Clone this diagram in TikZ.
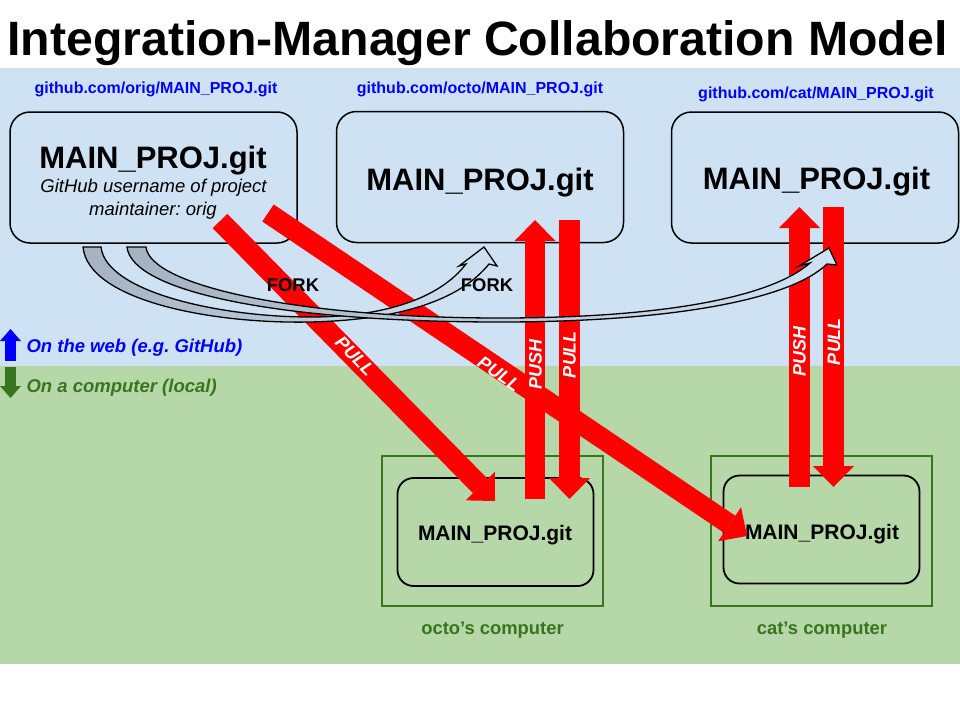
\documentclass[tikz,border=0pt]{standalone}
\usepackage{fontspec}
\setmainfont{Liberation Sans}
\usetikzlibrary{arrows.meta}
\frenchspacing

\definecolor{webblue}{HTML}{CFE2F3}
\definecolor{localgreen}{HTML}{B6D7A8}
\definecolor{pcgreen}{HTML}{38761D}
\definecolor{urlblue}{HTML}{0000FF}
\definecolor{gitred}{HTML}{FF0000}
\definecolor{forkgray}{HTML}{A5B2C1}

\begin{document}
\begin{tikzpicture}[x=1pt, y=-1pt,
    webbox/.style={draw, line width=1.5pt, rounded corners=20pt,
        minimum width=287pt, minimum height=131pt},
    localbox/.style={draw, line width=1.8pt, rounded corners=16pt,
        minimum width=196pt, minimum height=108pt},
    pcbox/.style={draw=pcgreen, line width=1.5pt,
        minimum width=221pt, minimum height=150pt},
    bigrepo/.style={font=\fontsize{31}{36}\selectfont\bfseries, anchor=base},
    smallrepo/.style={font=\fontsize{21}{25}\selectfont\bfseries, anchor=base},
    url/.style={text=urlblue, font=\fontsize{16}{19}\selectfont\bfseries, anchor=base},
    pclabel/.style={text=pcgreen, font=\fontsize{18.4}{22}\selectfont\bfseries, anchor=base},
    gitarrow/.style={draw=gitred, line width=20.5pt,
        -{Triangle[width=41pt, length=21pt, line width=0pt]}},
    gitlabel/.style={text=white, font=\fontsize{18}{22}\selectfont\bfseries\itshape, inner sep=0pt},
    forkarrow/.style={draw=black, line width=1.3pt, left color=forkgray, right color=webblue},
    forklabel/.style={font=\fontsize{18.4}{22}\selectfont\bfseries, anchor=base},
]
    \useasboundingbox (0,0) rectangle (960,720);
    \fill[white] (0,0) rectangle (960,720);
    \fill[webblue] (0,68) rectangle (960,366);
    \fill[localgreen] (0,366) rectangle (960,664);

    \node[font=\fontsize{48.2}{55}\selectfont\bfseries, anchor=base] (title) at (477.5,55)
        {Integration-Manager Collaboration Model};

    % repositories on the web
    \node[webbox] (origrepo) at (153.5,177.5) {};
    \node[webbox] (octorepo) at (480,177) {};
    \node[webbox] (catrepo) at (815,177.5) {};

    \node[url] (origurl) at (156,93) {github.com/orig/MAIN\_PROJ.git};
    \node[url] (octourl) at (480,93) {github.com/octo/MAIN\_PROJ.git};
    \node[url] (caturl) at (816,98) {github.com/cat/MAIN\_PROJ.git};

    \node[bigrepo] (origname) at (153,168) {MAIN\_PROJ.git};
    \node[font=\fontsize{18.5}{22}\selectfont\itshape, anchor=base] (origuser) at (153.5,192.5)
        {GitHub username of project};
    \node[font=\fontsize{18.5}{22}\selectfont\itshape, anchor=base] (origuser2) at (153,215)
        {maintainer: orig};
    \node[bigrepo] (octoname) at (480,190) {MAIN\_PROJ.git};
    \node[bigrepo] (catname) at (816.5,189) {MAIN\_PROJ.git};

    % computers
    \node[pcbox] (octopc) at (492.5,531) {};
    \node[pcbox] (catpc) at (821.5,531) {};
    \node[localbox] (octolocal) at (495.5,532) {};
    \node[localbox] (catlocal) at (821.5,529.5) {};
    \node[smallrepo] (octolocalname) at (495,540) {MAIN\_PROJ.git};
    \node[smallrepo] (catlocalname) at (822,539) {MAIN\_PROJ.git};
    \node[pclabel] (octopclabel) at (492.5,634) {octo’s computer};
    \node[pclabel] (catpclabel) at (822,634) {cat’s computer};

    % legend
    \draw[urlblue, line width=11pt, -{Triangle[width=21pt, length=12pt, line width=0pt]}]
        (10.5,361) -- (10.5,329);
    \draw[pcgreen, line width=11pt, -{Triangle[width=21pt, length=12pt, line width=0pt]}]
        (10.5,367) -- (10.5,398);
    \node[text=urlblue, font=\fontsize{18.5}{22}\selectfont\bfseries\itshape, anchor=base west]
        (weblegend) at (23,352) {On the web (e.g. GitHub)};
    \node[text=pcgreen, font=\fontsize{18.5}{22}\selectfont\bfseries\itshape, anchor=base west]
        (locallegend) at (23,392) {On a computer (local)};

    % push and pull
    \coordinate (origout1) at (220,221);
    \coordinate (origout2) at (268,213);
    \coordinate (octoin) at (495,501);
    \coordinate (catin) at (747,536);
    \draw[gitarrow] (origout1) -- (octoin);
    \draw[gitarrow] (origout2) -- (catin);

    \coordinate (octopushbot) at (535,499);
    \coordinate (octopushtop) at (535,220);
    \coordinate (octopulltop) at (569.5,220);
    \coordinate (octopullbot) at (569.5,499);
    \coordinate (catpushbot) at (799.5,487);
    \coordinate (catpushtop) at (799.5,207);
    \coordinate (catpulltop) at (833.5,207);
    \coordinate (catpullbot) at (833.5,487);
    \draw[gitarrow] (octopushbot) -- (octopushtop);
    \draw[gitarrow] (octopulltop) -- (octopullbot);
    \draw[gitarrow] (catpushbot) -- (catpushtop);
    \draw[gitarrow] (catpulltop) -- (catpullbot);

    \node[gitlabel, rotate=-45.5] (pullocto) at (355,356) {PULL};
    \node[gitlabel, rotate=-34] (pullcat) at (499,374) {PULL};
    \node[gitlabel, rotate=90] (octopush) at (535.5,364) {PUSH};
    \node[gitlabel, rotate=90] (octopull) at (569.5,354.5) {PULL};
    \node[gitlabel, rotate=90] (catpush) at (799.5,351.5) {PUSH};
    \node[gitlabel, rotate=90] (catpull) at (834,341.5) {PULL};

    % forks
    \path[forkarrow] (83,247) .. controls (88,300) and (210,324) .. (310,322)
        .. controls (400,320) and (460,300) .. (489,264)
        -- (497,266) -- (484,247) -- (459,266) -- (466,264)
        .. controls (440,298) and (385,317) .. (310,317)
        .. controls (220,317) and (106,292) .. (101,247) -- cycle;
    \path[forkarrow] (127,247) .. controls (132,292) and (280,322) .. (500,322)
        .. controls (670,322) and (790,300) .. (827,264)
        -- (837,265) -- (829,248) -- (799,266) -- (810,263)
        .. controls (770,298) and (660,318) .. (500,318)
        .. controls (300,318) and (150,286) .. (146,247) -- cycle;

    \node[forklabel] (fork1) at (293,291) {FORK};
    \node[forklabel] (fork2) at (487,291) {FORK};
\end{tikzpicture}
\end{document}
